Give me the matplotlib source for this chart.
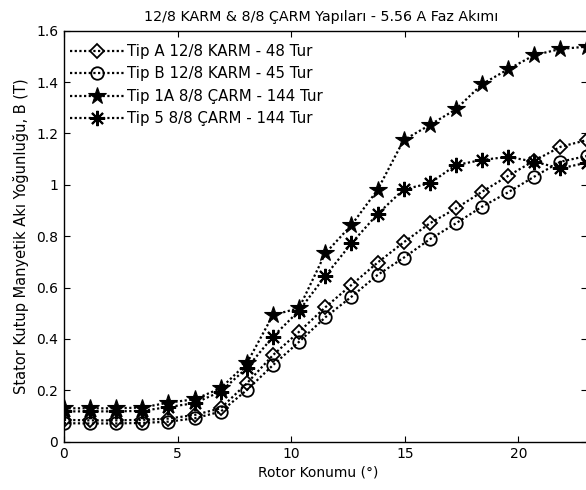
import numpy as np
import matplotlib
matplotlib.use("Agg")
import matplotlib.pyplot as plt

plt.rcParams['font.family'] = ['DejaVu Sans']

# rotor konumu (derece), 21 nokta
rotor_pos = np.arange(21) * 1.15

tip_a = [0.085, 0.083, 0.083, 0.085, 0.09, 0.104, 0.13, 0.227, 0.337, 0.428,
         0.523, 0.61, 0.697, 0.776, 0.85, 0.908, 0.973, 1.035, 1.094, 1.148, 1.174]
tip_b = [0.072, 0.071, 0.071, 0.073, 0.078, 0.091, 0.117, 0.201, 0.298, 0.389,
         0.484, 0.564, 0.649, 0.716, 0.788, 0.85, 0.915, 0.971, 1.032, 1.09, 1.112]
tip_1a = [0.13, 0.13, 0.13, 0.133, 0.152, 0.165, 0.208, 0.305, 0.493, 0.52,
          0.733, 0.843, 0.98, 1.174, 1.233, 1.294, 1.392, 1.45, 1.505, 1.529, 1.538]
tip_5 = [0.118, 0.118, 0.118, 0.12, 0.135, 0.15, 0.195, 0.287, 0.409, 0.51,
         0.645, 0.772, 0.886, 0.982, 1.006, 1.077, 1.097, 1.109, 1.09, 1.064, 1.086]

labels = ['Tip A 12/8 KARM - 48 Tur', 'Tip B 12/8 KARM - 45 Tur',
          'Tip 1A 8/8 ÇARM - 144 Tur', 'Tip 5 8/8 ÇARM - 144 Tur']

fig = plt.figure(figsize=(5.86, 4.9), dpi=100)
ax = fig.add_axes([0.109, 0.0986, 0.892, 0.8387])

dots = (0, (1, 1.1))
common = dict(color='black', linestyle=dots, linewidth=1.6)

ax.plot(rotor_pos, tip_a, marker='D', markersize=7, markerfacecolor='none',
        markeredgecolor='black', markeredgewidth=1.3, label=labels[0], **common)
ax.plot(rotor_pos, tip_b, marker='o', markersize=9, markerfacecolor='none',
        markeredgecolor='black', markeredgewidth=1.3, label=labels[1], **common)
ax.plot(rotor_pos, tip_1a, marker='*', markersize=13, markerfacecolor='black',
        markeredgecolor='black', markeredgewidth=0.8, label=labels[2], **common)
ax.plot(rotor_pos, tip_5, marker=(8, 2, 0), markersize=11,
        markeredgecolor='black', markeredgewidth=1.5, label=labels[3], **common)

ax.set_xlim(0, 23)
ax.set_ylim(0, 1.6)
ax.set_xticks([0, 5, 10, 15, 20])
ax.set_yticks([0, 0.2, 0.4, 0.6, 0.8, 1.0, 1.2, 1.4, 1.6])
ax.set_yticklabels(['0', '0.2', '0.4', '0.6', '0.8', '1', '1.2', '1.4', '1.6'])
ax.tick_params(direction='in', top=True, right=True, length=4, width=0.8,
               labelsize=10, pad=4)
for s in ax.spines.values():
    s.set_linewidth(1.0)

ax.set_title('12/8 KARM & 8/8 ÇARM Yapıları - 5.56 A Faz Akımı', fontsize=10.3,
             pad=7, x=0.492)
ax.set_xlabel('Rotor Konumu (°)', fontsize=10, labelpad=3, x=0.487)
ax.set_ylabel('Stator Kutup Manyetik Akı Yoğunluğu, B (T)', fontsize=10.5, labelpad=5)

ax.legend(loc='upper left', frameon=False, fontsize=10.8, handlelength=3.6,
          handletextpad=0.2, labelspacing=0.5, borderpad=0, borderaxespad=0,
          bbox_to_anchor=(0.011, 0.968))

fig.savefig('out.png', dpi=100)
